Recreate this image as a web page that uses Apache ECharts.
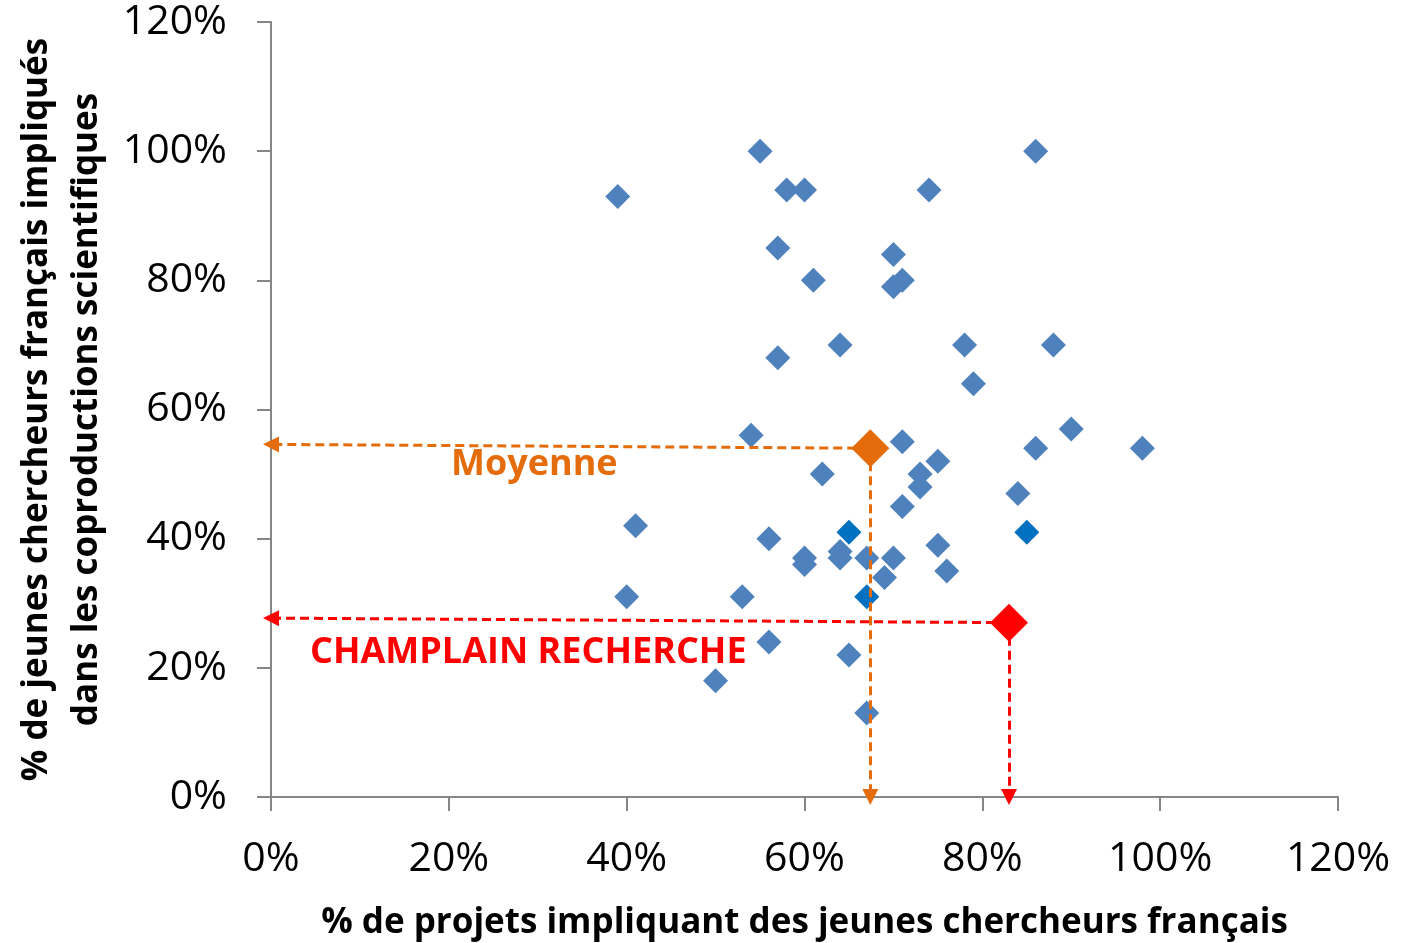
<!DOCTYPE html>
<html>
<head>
<meta charset="utf-8">
<script src="https://cdn.jsdelivr.net/npm/echarts@6/dist/echarts.min.js"></script>
<style>
  html, body { margin: 0; padding: 0; background: #fff; }
  #chart { width: 1402px; height: 943px; }
</style>
</head>
<body>
<div id="chart"></div>
<script>
// projets (x, %) / jeunes chercheurs (y, %)
var projX = [39, 55, 58, 60, 57, 61, 57, 64, 70, 70, 71, 74, 86, 78, 79, 88, 90, 98, 86, 84,
             54, 62, 71, 75, 73, 73, 71, 41, 40, 56, 60, 60, 64, 64, 67, 70, 75, 69, 76, 53,
             56, 65, 50, 67];
var jeunesY = [93, 100, 94, 94, 85, 80, 68, 70, 84, 79, 80, 94, 100, 70, 64, 70, 57, 54, 54, 47,
               56, 50, 55, 52, 50, 48, 45, 42, 31, 40, 37, 36, 38, 37, 37, 37, 39, 34, 35, 31,
               24, 22, 18, 13];
// points en bleu foncé
var darkX = [85, 65, 67];
var darkY = [41, 41, 31];

// moyenne et Champlain
var moyenne = [67.4, 54];
var champlain = [83, 27];
var moyenneArrowY = 54.6;
var champlainArrowY = 27.7;

var xTicks = [0, 20, 40, 60, 80, 100, 120];
var yTicks = [0, 20, 40, 60, 80, 100, 120];

var font = '"Open Sans", "DejaVu Sans", sans-serif';
var axisColor = '#868686';

function pairs(xs, ys) {
    var out = [];
    for (var i = 0; i < xs.length; i++) {
        out.push([xs[i], ys[i]]);
    }
    return out;
}

function axisCommon() {
    return {
        type: 'value',
        min: xTicks[0],
        max: xTicks[xTicks.length - 1],
        interval: 20,
        axisLine: { show: true, lineStyle: { color: axisColor, width: 2 } },
        axisTick: { show: true, inside: false, length: 14, lineStyle: { color: axisColor, width: 2 } },
        splitLine: { show: false },
        axisLabel: {
            formatter: '{value}%',
            color: '#000',
            fontFamily: font,
            fontSize: 41
        }
    };
}

var xAxis = axisCommon();
xAxis.axisLabel.margin = 42;
xAxis.name = '% de projets impliquant des jeunes chercheurs français';
xAxis.nameLocation = 'middle';
xAxis.nameGap = 109;
xAxis.nameTextStyle = { color: '#000', fontFamily: font, fontSize: 35, fontWeight: 'bold' };

var yAxis = axisCommon();
yAxis.min = yTicks[0];
yAxis.max = yTicks[yTicks.length - 1];
yAxis.axisLabel.margin = 44;
yAxis.name = '% de jeunes chercheurs français impliqués\ndans les coproductions scientifiques';
yAxis.nameLocation = 'middle';
yAxis.nameRotate = 90;
yAxis.nameGap = 158;
yAxis.nameTextStyle = { color: '#000', fontFamily: font, fontSize: 35, fontWeight: 'bold', lineHeight: 50 };

var option = {
    animation: false,
    backgroundColor: '#fff',
    grid: { left: 271, right: 64, top: 22, bottom: 146, containLabel: false, outerBoundsMode: 'none' },
    xAxis: xAxis,
    yAxis: yAxis,
    series: [
        {
            type: 'scatter',
            symbol: 'diamond',
            symbolSize: 25,
            itemStyle: { color: '#4F81BD', opacity: 1 },
            data: pairs(projX, jeunesY)
        },
        {
            type: 'scatter',
            symbol: 'diamond',
            symbolSize: 25,
            itemStyle: { color: '#0070C0', opacity: 1 },
            data: pairs(darkX, darkY)
        },
        {
            // flèches moyenne
            type: 'scatter',
            symbol: 'diamond',
            symbolSize: 38,
            itemStyle: { color: '#E46C0A', opacity: 1 },
            data: [moyenne],
            z: 5,
            markLine: {
                silent: true,
                symbol: ['none', 'triangle'],
                symbolSize: 16,
                label: { show: false },
                lineStyle: { color: '#E46C0A', type: [9, 5], width: 3, opacity: 1 },
                data: [
                    [{ coord: moyenne }, { coord: [0, moyenneArrowY] }],
                    [{ coord: moyenne }, { coord: [moyenne[0], 0] }]
                ]
            }
        },
        {
            // flèches Champlain
            type: 'scatter',
            symbol: 'diamond',
            symbolSize: 38,
            itemStyle: { color: '#FF0000', opacity: 1 },
            data: [champlain],
            z: 5,
            markLine: {
                silent: true,
                symbol: ['none', 'triangle'],
                symbolSize: 16,
                label: { show: false },
                lineStyle: { color: '#FF0000', type: [9, 5], width: 3, opacity: 1 },
                data: [
                    [{ coord: champlain }, { coord: [0, champlainArrowY] }],
                    [{ coord: champlain }, { coord: [champlain[0], 0] }]
                ]
            }
        }
    ],
    graphic: [
        {
            type: 'text',
            left: 451,
            top: 447,
            style: { text: 'Moyenne', fill: '#E46C0A', font: 'bold 36px ' + font }
        },
        {
            type: 'text',
            left: 310,
            top: 635,
            style: { text: 'CHAMPLAIN RECHERCHE', fill: '#FF0000', font: 'bold 36px ' + font }
        }
    ]
};

var myChart = echarts.init(document.getElementById('chart'));
myChart.setOption(option);
</script>
</body>
</html>
